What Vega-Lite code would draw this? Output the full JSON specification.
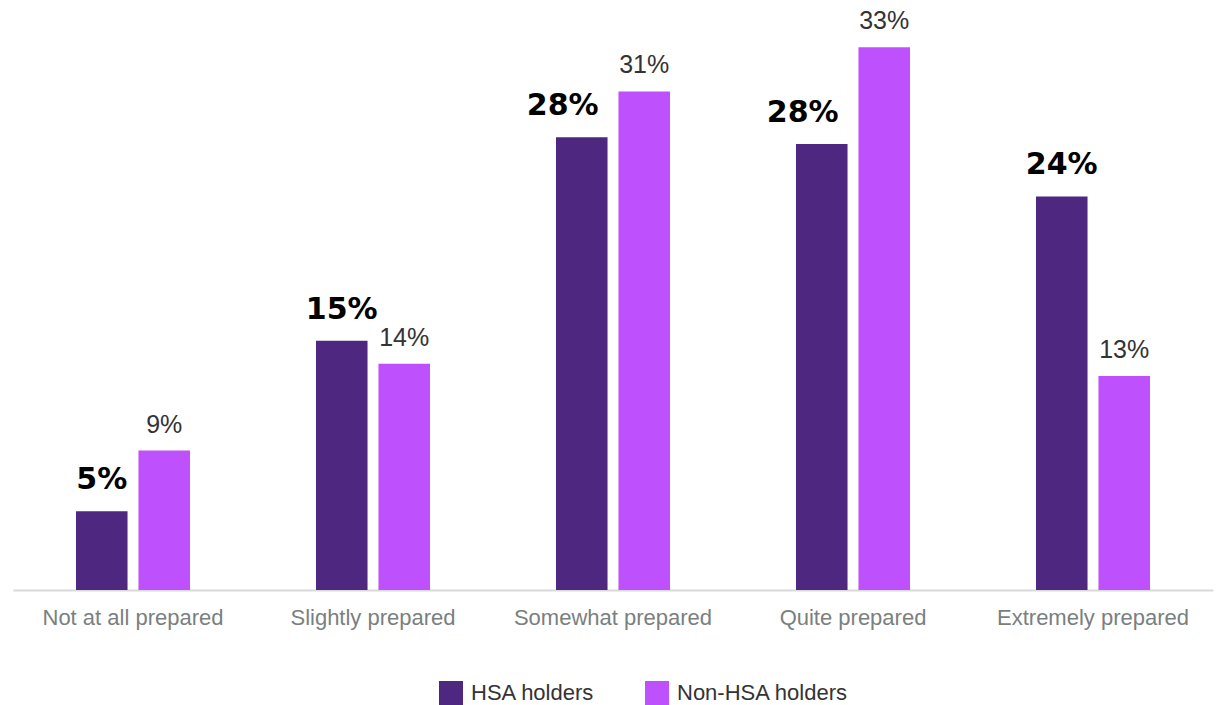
{
  "$schema": "https://vega.github.io/schema/vega-lite/v6.json",
  "autosize": "none",
  "width": 1200,
  "height": 574,
  "padding": {"left": 13, "top": 16, "right": 6, "bottom": 115},
  "background": "white",
  "data": {"values": [
    {"category": "Not at all prepared", "series": "HSA holders", "value": 4.8, "label": "5%"},
    {"category": "Not at all prepared", "series": "Non-HSA holders", "value": 8.5, "label": "9%"},
    {"category": "Slightly prepared", "series": "HSA holders", "value": 15.2, "label": "15%"},
    {"category": "Slightly prepared", "series": "Non-HSA holders", "value": 13.8, "label": "14%"},
    {"category": "Somewhat prepared", "series": "HSA holders", "value": 27.6, "label": "28%"},
    {"category": "Somewhat prepared", "series": "Non-HSA holders", "value": 30.4, "label": "31%"},
    {"category": "Quite prepared", "series": "HSA holders", "value": 27.2, "label": "28%"},
    {"category": "Quite prepared", "series": "Non-HSA holders", "value": 33.1, "label": "33%"},
    {"category": "Extremely prepared", "series": "HSA holders", "value": 24.0, "label": "24%"},
    {"category": "Extremely prepared", "series": "Non-HSA holders", "value": 13.05, "label": "13%"}
  ]},
  "config": {
    "view": {"stroke": null},
    "font": "Liberation Sans"
  },
  "encoding": {
    "x": {
      "field": "category", "type": "nominal", "sort": null,
      "scale": {"paddingInner": 0.525, "paddingOuter": 0.2625},
      "axis": {
        "title": null, "labelAngle": 0, "ticks": false, "grid": false,
        "domainColor": "#d9d9d9", "domainWidth": 2,
        "labelFontSize": 22, "labelColor": "#7a7f80", "labelPadding": 17,
        "labelFont": "Liberation Sans", "labelLimit": 300
      }
    },
    "xOffset": {"field": "series", "type": "nominal", "scale": {"paddingInner": 0.175, "paddingOuter": 0}},
    "y": {
      "field": "value", "type": "quantitative",
      "scale": {"domain": [0, 35], "nice": false},
      "axis": null
    }
  },
  "layer": [
    {
      "mark": {"type": "bar"},
      "encoding": {
        "color": {
          "field": "series", "type": "nominal",
          "scale": {"domain": ["HSA holders", "Non-HSA holders"], "range": ["#4e2781", "#bf50fe"]},
          "legend": {
            "title": null, "orient": "none", "direction": "horizontal",
            "legendX": 426, "legendY": 665,
            "symbolType": "square", "symbolSize": 576, "symbolStrokeWidth": 0,
            "labelFontSize": 22, "labelColor": "#333333", "labelFont": "Liberation Sans",
            "labelLimit": 300,
            "columnPadding": 50, "labelOffset": 8, "symbolOpacity": 1
          }
        }
      }
    },
    {
      "transform": [{"filter": "datum.series === 'HSA holders' && datum.category !== 'Somewhat prepared' && datum.category !== 'Quite prepared'"}],
      "mark": {"type": "text", "baseline": "alphabetic", "dy": -22, "fontSize": 30, "fontWeight": "bold", "color": "#000000", "font": "DejaVu Sans"},
      "encoding": {"text": {"field": "label"}}
    },
    {
      "transform": [{"filter": "datum.series === 'HSA holders' && (datum.category === 'Somewhat prepared' || datum.category === 'Quite prepared')"}],
      "mark": {"type": "text", "baseline": "alphabetic", "dy": -22, "dx": -19, "fontSize": 30, "fontWeight": "bold", "color": "#000000", "font": "DejaVu Sans"},
      "encoding": {"text": {"field": "label"}}
    },
    {
      "transform": [{"filter": "datum.series === 'Non-HSA holders'"}],
      "mark": {"type": "text", "baseline": "alphabetic", "dy": -18, "fontSize": 25, "color": "#333333", "font": "Liberation Sans"},
      "encoding": {"text": {"field": "label"}}
    }
  ]
}
